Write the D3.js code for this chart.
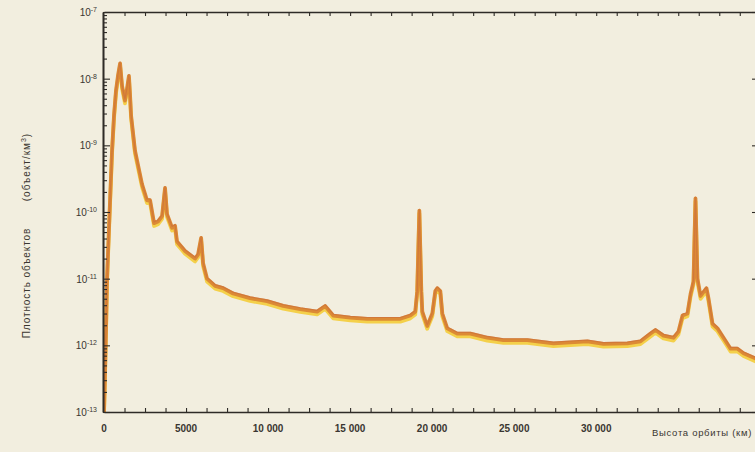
<!DOCTYPE html>
<html>
<head>
<meta charset="utf-8">
<script src="https://cdn.jsdelivr.net/npm/d3@7"></script>
<style>
    body { margin: 0; background: #f2eedf; }
    svg { display: block; font-family: 'Liberation Sans', Arial, sans-serif; }
</style>
</head>
<body>
<div class="chart-container"></div>
<script>
// orbit altitude (km) and object density (objects / km^3)
const altitudeKm = [
    0, 50, 120, 180, 250, 370, 490, 610, 730, 850, 980, 1100, 1280, 1400, 1520, 1590, 1650,
    1890, 2320, 2620, 2810, 3050, 3290, 3540, 3720, 3840, 4150, 4330, 4450, 4940, 5550, 5730,
    5920, 6040, 6280, 6770, 7260, 7870, 8900, 9940, 10920, 11960, 12990, 13480, 13970, 15010,
    16040, 17020, 18060, 18670, 18970, 19090, 19220, 19340, 19400, 19700, 20010, 20190, 20310,
    20500, 20620, 20920, 21530, 22330, 23360, 24340, 25800, 27390, 29460, 30440, 31900, 32700,
    33310, 33610, 34100, 34710, 35010, 35260, 35560, 35750, 35930, 36050, 36170, 36360, 36720,
    36840, 37090, 37390, 37760, 38190, 38610, 38980, 39800
];
const density = [
    1.0e-13, 2.9e-13, 1.6e-12, 9.1e-12, 2.6e-11, 1.5e-10, 8.3e-10, 2.8e-9, 6.6e-9, 1.1e-8, 1.7e-8, 7.8e-9, 4.7e-9, 7.0e-9, 1.1e-8, 5.5e-9, 2.8e-9,
    8.3e-10, 2.6e-10, 1.5e-10, 1.5e-10, 6.8e-11, 7.2e-11, 8.7e-11, 2.3e-10, 9.3e-11, 5.8e-11, 6.2e-11, 3.6e-11, 2.6e-11, 2.0e-11, 2.3e-11,
    4.1e-11, 1.7e-11, 1.0e-11, 7.8e-12, 7.2e-12, 6.0e-12, 5.1e-12, 4.6e-12, 3.9e-12, 3.5e-12, 3.2e-12, 3.9e-12, 2.8e-12, 2.6e-12,
    2.5e-12, 2.5e-12, 2.5e-12, 2.8e-12, 3.2e-12, 6.5e-12, 1.05e-10, 6.5e-12, 3.2e-12, 1.95e-12, 3.0e-12, 6.5e-12, 7.2e-12,
    6.5e-12, 3.0e-12, 1.8e-12, 1.5e-12, 1.5e-12, 1.3e-12, 1.2e-12, 1.2e-12, 1.07e-12, 1.15e-12, 1.05e-12, 1.07e-12, 1.15e-12,
    1.5e-12, 1.7e-12, 1.4e-12, 1.3e-12, 1.6e-12, 2.8e-12, 3.0e-12, 5.9e-12, 9.1e-12, 1.6e-10, 1.0e-11, 5.5e-12, 7.2e-12,
    5.1e-12, 2.1e-12, 1.8e-12, 1.3e-12, 8.9e-13, 8.9e-13, 7.6e-13, 6.2e-13
];

// axis ticks
const xLabelTicks = [0, 5000, 10000, 15000, 20000, 25000, 30000];
const xLabelText = ['0', '5000', '10 000', '15 000', '20 000', '25 000', '30 000'];
const xMinorTicks = d3.range(1250, 39800, 1250);
const yExponents = [-7, -8, -9, -10, -11, -12, -13];
const xAxisTitle = 'Высота орбиты (км)';
const yAxisTitleA = 'Плотность объектов';
const yAxisTitleB = '(объект/км';

const margin = { top: 12, right: 0, bottom: 40, left: 104 };
const fullWidth = 755;
const fullHeight = 452;
const width = 653;
const height = 400;
const ink = '#2e2b27';
const textInk = '#3a3631';

const xScale = d3.scaleLinear().domain([0, 39800]).range([0, width]);
const yScale = d3.scaleLog().domain([1e-13, 1e-7]).range([height, 0]);

const svg = d3.select('.chart-container')
    .append('svg')
    .attr('width', fullWidth)
    .attr('height', fullHeight)
    .style('background', '#f2eedf');

const g = svg.append('g')
    .attr('transform', `translate(${margin.left}, ${margin.top})`);

// curve: yellow under-band, orange body, reddish top edge
const points = altitudeKm.map((d, i) => ({ km: d, value: density[i] }));
const lineGen = d3.line()
    .x(d => xScale(d.km))
    .y(d => yScale(d.value));

g.append('defs').append('clipPath').attr('id', 'plot-clip')
    .append('rect').attr('x', 0).attr('y', 0).attr('width', width + 5).attr('height', height);

const curves = g.append('g').attr('clip-path', 'url(#plot-clip)');

curves.append('path')
    .attr('d', lineGen(points))
    .attr('transform', 'translate(0, 2.8)')
    .style('fill', 'none')
    .style('stroke', '#f4d04a')
    .style('stroke-width', 3.8)
    .style('stroke-linejoin', 'round');

curves.append('path')
    .attr('d', lineGen(points))
    .style('fill', 'none')
    .style('stroke', '#dc8a35')
    .style('stroke-width', 3.8)
    .style('stroke-linejoin', 'round');

curves.append('path')
    .attr('d', lineGen(points))
    .attr('transform', 'translate(0, -1.3)')
    .style('fill', 'none')
    .style('stroke', '#c9693e')
    .style('stroke-width', 1.2)
    .style('opacity', 0.55)
    .style('stroke-linejoin', 'round');

// bottom axis
const xAxisDraw = g.append('g')
    .attr('transform', `translate(0, ${height})`)
    .call(d3.axisBottom(xScale).tickValues(xMinorTicks).tickSize(-4).tickFormat('').tickSizeOuter(0));

// top axis
const xTopDraw = g.append('g')
    .call(d3.axisTop(xScale).tickValues(xMinorTicks).tickSize(-4).tickFormat('').tickSizeOuter(0));

// left axis: minor + decade ticks pointing inward
const yMinor = yScale.ticks().filter(v => !yExponents.includes(Math.round(Math.log10(v) * 1000) / 1000));
const yLeftMinor = g.append('g')
    .attr('transform', 'translate(-1, 0)')
    .call(d3.axisLeft(yScale).tickValues(yMinor).tickSize(-4).tickFormat('').tickSizeOuter(0));

const yLeftMajor = g.append('g')
    .attr('transform', 'translate(-1, 0)')
    .call(d3.axisLeft(yScale).tickValues(yExponents.map(e => Math.pow(10, e))).tickSize(-7).tickFormat('').tickSizeOuter(0));

// right axis ticks at the page edge
const yRight = g.append('g')
    .attr('transform', `translate(${width - 1}, 0)`)
    .call(d3.axisRight(yScale).tickValues(yExponents.map(e => Math.pow(10, e))).tickSize(-4).tickFormat('').tickSizeOuter(0));
yRight.select('.domain').remove();

[xAxisDraw, xTopDraw, yLeftMinor, yLeftMajor, yRight].forEach(a => {
    a.selectAll('line').style('stroke', ink).style('stroke-width', 1.1);
    a.selectAll('.domain').style('stroke', ink).style('stroke-width', 1.6);
});

// x tick labels
g.append('g')
    .selectAll('.x-label')
    .data(xLabelTicks)
    .enter()
        .append('text')
        .attr('x', d => xScale(d))
        .attr('y', height + 20)
        .attr('text-anchor', 'middle')
        .style('font-size', '10px')
        .style('font-weight', 'bold')
        .style('fill', textInk)
        .text((d, i) => xLabelText[i]);

g.append('text')
    .attr('x', width - 5)
    .attr('y', height + 24)
    .attr('text-anchor', 'end')
    .style('font-size', '9.5px')
    .style('letter-spacing', '0.7px')
    .style('fill', textInk)
    .text(xAxisTitle);

// y tick labels 10^n
const yLabels = g.append('g')
    .selectAll('.y-label')
    .data(yExponents)
    .enter()
        .append('text')
        .attr('x', -7)
        .attr('y', d => yScale(Math.pow(10, d)) + 4)
        .attr('text-anchor', 'end')
        .style('font-size', '10px')
        .style('fill', textInk);

yLabels.append('tspan').text('10');
yLabels.append('tspan')
    .attr('dy', -4)
    .style('font-size', '7px')
    .text(d => d.toString());

// y axis title, rotated
svg.append('text')
    .attr('transform', 'translate(30, 283) rotate(-90)')
    .attr('text-anchor', 'middle')
    .style('font-size', '10px')
    .style('letter-spacing', '0.9px')
    .style('fill', textInk)
    .text(yAxisTitleA);

const yTitleB = svg.append('text')
    .attr('transform', 'translate(30, 167) rotate(-90)')
    .attr('text-anchor', 'middle')
    .style('font-size', '10px')
    .style('letter-spacing', '1px')
    .style('fill', textInk);
yTitleB.append('tspan').text(yAxisTitleB);
yTitleB.append('tspan').attr('dy', -4).style('font-size', '7px').text('3');
yTitleB.append('tspan').attr('dy', 4).text(')');
</script>
</body>
</html>
